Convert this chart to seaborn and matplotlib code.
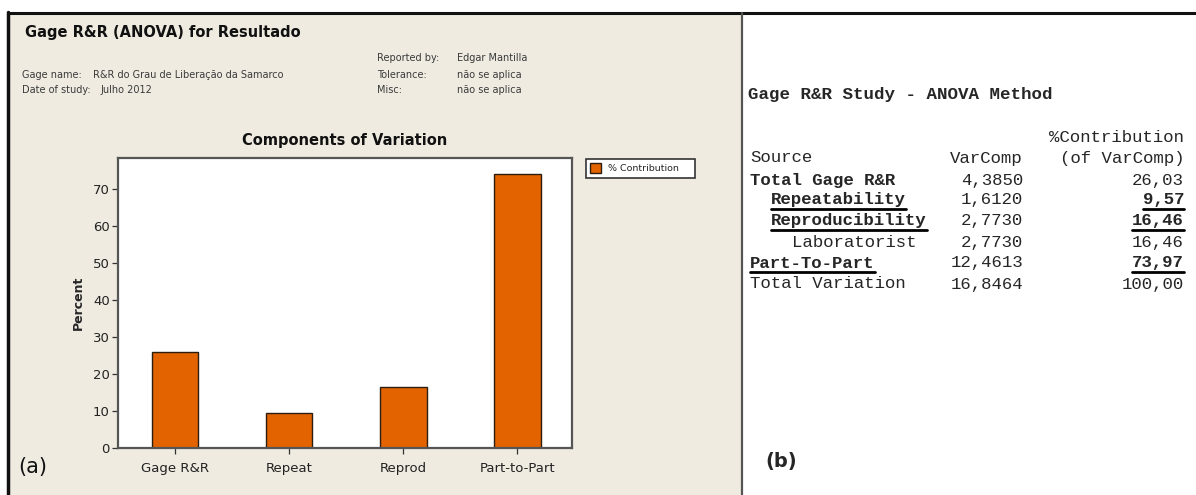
import matplotlib
matplotlib.use("Agg")
import matplotlib.pyplot as plt
from matplotlib.patches import Rectangle
from matplotlib.lines import Line2D
import pandas as pd
import seaborn as sns

# Components of variation (% contribution of VarComp)
components = ["Gage R&R", "Repeat", "Reprod", "Part-to-Part"]
pct_contribution = [26.03, 9.57, 16.46, 73.97]
y_ticks = [0, 10, 20, 30, 40, 50, 60, 70]

# ANOVA table rows
sources = ["Total Gage R&R", "Repeatability", "Reproducibility",
           "Laboratorist", "Part-To-Part", "Total Variation"]
varcomp = ["4,3850", "1,6120", "2,7730", "2,7730", "12,4613", "16,8464"]
contrib = ["26,03", "9,57", "16,46", "16,46", "73,97", "100,00"]

sns.set_style("ticks")
plt.rcParams["font.family"] = ["DejaVu Sans"]

W, H = 1196, 495
fig = plt.figure(figsize=(W / 100, H / 100), dpi=100)
fig.patch.set_facecolor("white")


def fx(px):
    return px / W


def fy(py):
    return 1 - py / H


# Report panel background and frame
bg = Rectangle((fx(9), 0), fx(741) - fx(9), fy(13), transform=fig.transFigure,
               facecolor="#EFEBE1", edgecolor="none", zorder=-10)
fig.add_artist(bg)
fig.add_artist(Line2D([fx(8), fx(8)], [0, fy(12)], color="#111111", lw=2.5, transform=fig.transFigure))
fig.add_artist(Line2D([fx(8), 1], [fy(13), fy(13)], color="#111111", lw=2.2, transform=fig.transFigure))
fig.add_artist(Line2D([fx(742), fx(742)], [0, fy(13)], color="#555555", lw=1.6, transform=fig.transFigure))

# Report header
fig.text(fx(25), fy(33), "Gage R&R (ANOVA) for Resultado", fontsize=10.5, fontweight="bold",
         va="center", ha="left", color="#111111")
hdr = dict(fontsize=7, va="center", ha="left", color="#3a3a3a")
fig.text(fx(22), fy(75), "Gage name:", **hdr)
fig.text(fx(93), fy(75), "R&R do Grau de Liberação da Samarco", **hdr)
fig.text(fx(22), fy(90), "Date of study:", **hdr)
fig.text(fx(100), fy(90), "Julho 2012", **hdr)
fig.text(fx(377), fy(58), "Reported by:", **hdr)
fig.text(fx(457), fy(58), "Edgar Mantilla", **hdr)
fig.text(fx(377), fy(75), "Tolerance:", **hdr)
fig.text(fx(457), fy(75), "não se aplica", **hdr)
fig.text(fx(377), fy(90), "Misc:", **hdr)
fig.text(fx(457), fy(90), "não se aplica", **hdr)

# Bar chart
ax = fig.add_axes([fx(118), fy(448), fx(572) - fx(118), fy(158) - fy(448)])
ax.set_facecolor("white")
df = pd.DataFrame({"Component": components, "Percent": pct_contribution})
sns.barplot(data=df, x="Component", y="Percent", color="#E36300", edgecolor="#2b1d10",
            linewidth=1.0, width=0.41, saturation=1, ax=ax, label="% Contribution")
ax.set_xlim(-0.5, 3.48)
ax.set_ylim(0, 78.4)
ax.set_yticks(y_ticks)
ax.tick_params(axis="both", labelsize=9.5, length=4, width=0.9, color="#333333",
               labelcolor="#222222")
ax.tick_params(axis="y", pad=2)
ax.tick_params(axis="x", pad=6)
ax.set_xlabel("")
ax.set_ylabel("Percent", fontsize=9, fontweight="bold", labelpad=6)
ax.set_title("Components of Variation", fontsize=10.5, fontweight="bold",
             pad=9, color="#111111")
for s in ax.spines.values():
    s.set_visible(True)
    s.set_color("#555555")
    s.set_linewidth(1.6)

leg = ax.legend(loc="upper left", bbox_to_anchor=(fx(586), fy(159)), bbox_transform=fig.transFigure,
                fancybox=False, frameon=True, edgecolor="#333333", facecolor="white",
                fontsize=6.8, borderaxespad=0, handlelength=1.1, handleheight=1.2,
                borderpad=0.45, handletextpad=0.8, framealpha=1)
leg.get_frame().set_linewidth(1.2)
# widen the frame a little on the right
for txt in leg.get_texts():
    txt.set_text("% Contribution    ")

fig.text(fx(18), fy(467), "(a)", fontsize=15, va="center", ha="left", color="#111111")

# ANOVA table
mono = ["Liberation Mono", "DejaVu Sans Mono"]
fs = 12.5
fig.text(fx(748), fy(95), "Gage R&R Study - ANOVA Method", fontsize=12.6, fontweight="bold",
         family=mono, va="center", ha="left")
fig.text(fx(1184), fy(137), "%Contribution", fontsize=fs, family=mono, va="center", ha="right")
fig.text(fx(750), fy(158), "Source", fontsize=fs, family=mono, va="center", ha="left")
fig.text(fx(1023), fy(158), "VarComp", fontsize=fs, family=mono, va="center", ha="right")
fig.text(fx(1184), fy(158), "(of VarComp)", fontsize=fs, family=mono, va="center", ha="right")

row_y = [180, 200, 221, 242, 263, 284]
src_x = [750, 771, 771, 792, 750, 750]
src_bold = [True, True, True, False, True, False]
src_under = [False, True, True, False, True, False]
val_under = [False, True, True, False, True, False]

underlined = []
for i in range(len(sources)):
    t = fig.text(fx(src_x[i]), fy(row_y[i]), sources[i], fontsize=fs, family=mono,
                 fontweight="bold" if src_bold[i] else "normal", va="center", ha="left")
    if src_under[i]:
        underlined.append(t)
    fig.text(fx(1023), fy(row_y[i]), varcomp[i], fontsize=fs, family=mono,
             va="center", ha="right")
    t2 = fig.text(fx(1184), fy(row_y[i]), contrib[i], fontsize=fs, family=mono,
                  fontweight="bold" if val_under[i] else "normal",
                  va="center", ha="right")
    if val_under[i]:
        underlined.append(t2)

fig.text(fx(765), fy(462), "(b)", fontsize=14, fontweight="bold", va="center", ha="left")

# Underline the highlighted table entries beneath their text extents
fig.canvas.draw()
renderer = fig.canvas.get_renderer()
inv = fig.transFigure.inverted()
for t in underlined:
    bb = t.get_window_extent(renderer).transformed(inv)
    fig.add_artist(Line2D([bb.x0, bb.x1], [bb.y0 - 0.004, bb.y0 - 0.004], color="black",
                          lw=2.0, transform=fig.transFigure))

fig.savefig("out.png", dpi=100)
